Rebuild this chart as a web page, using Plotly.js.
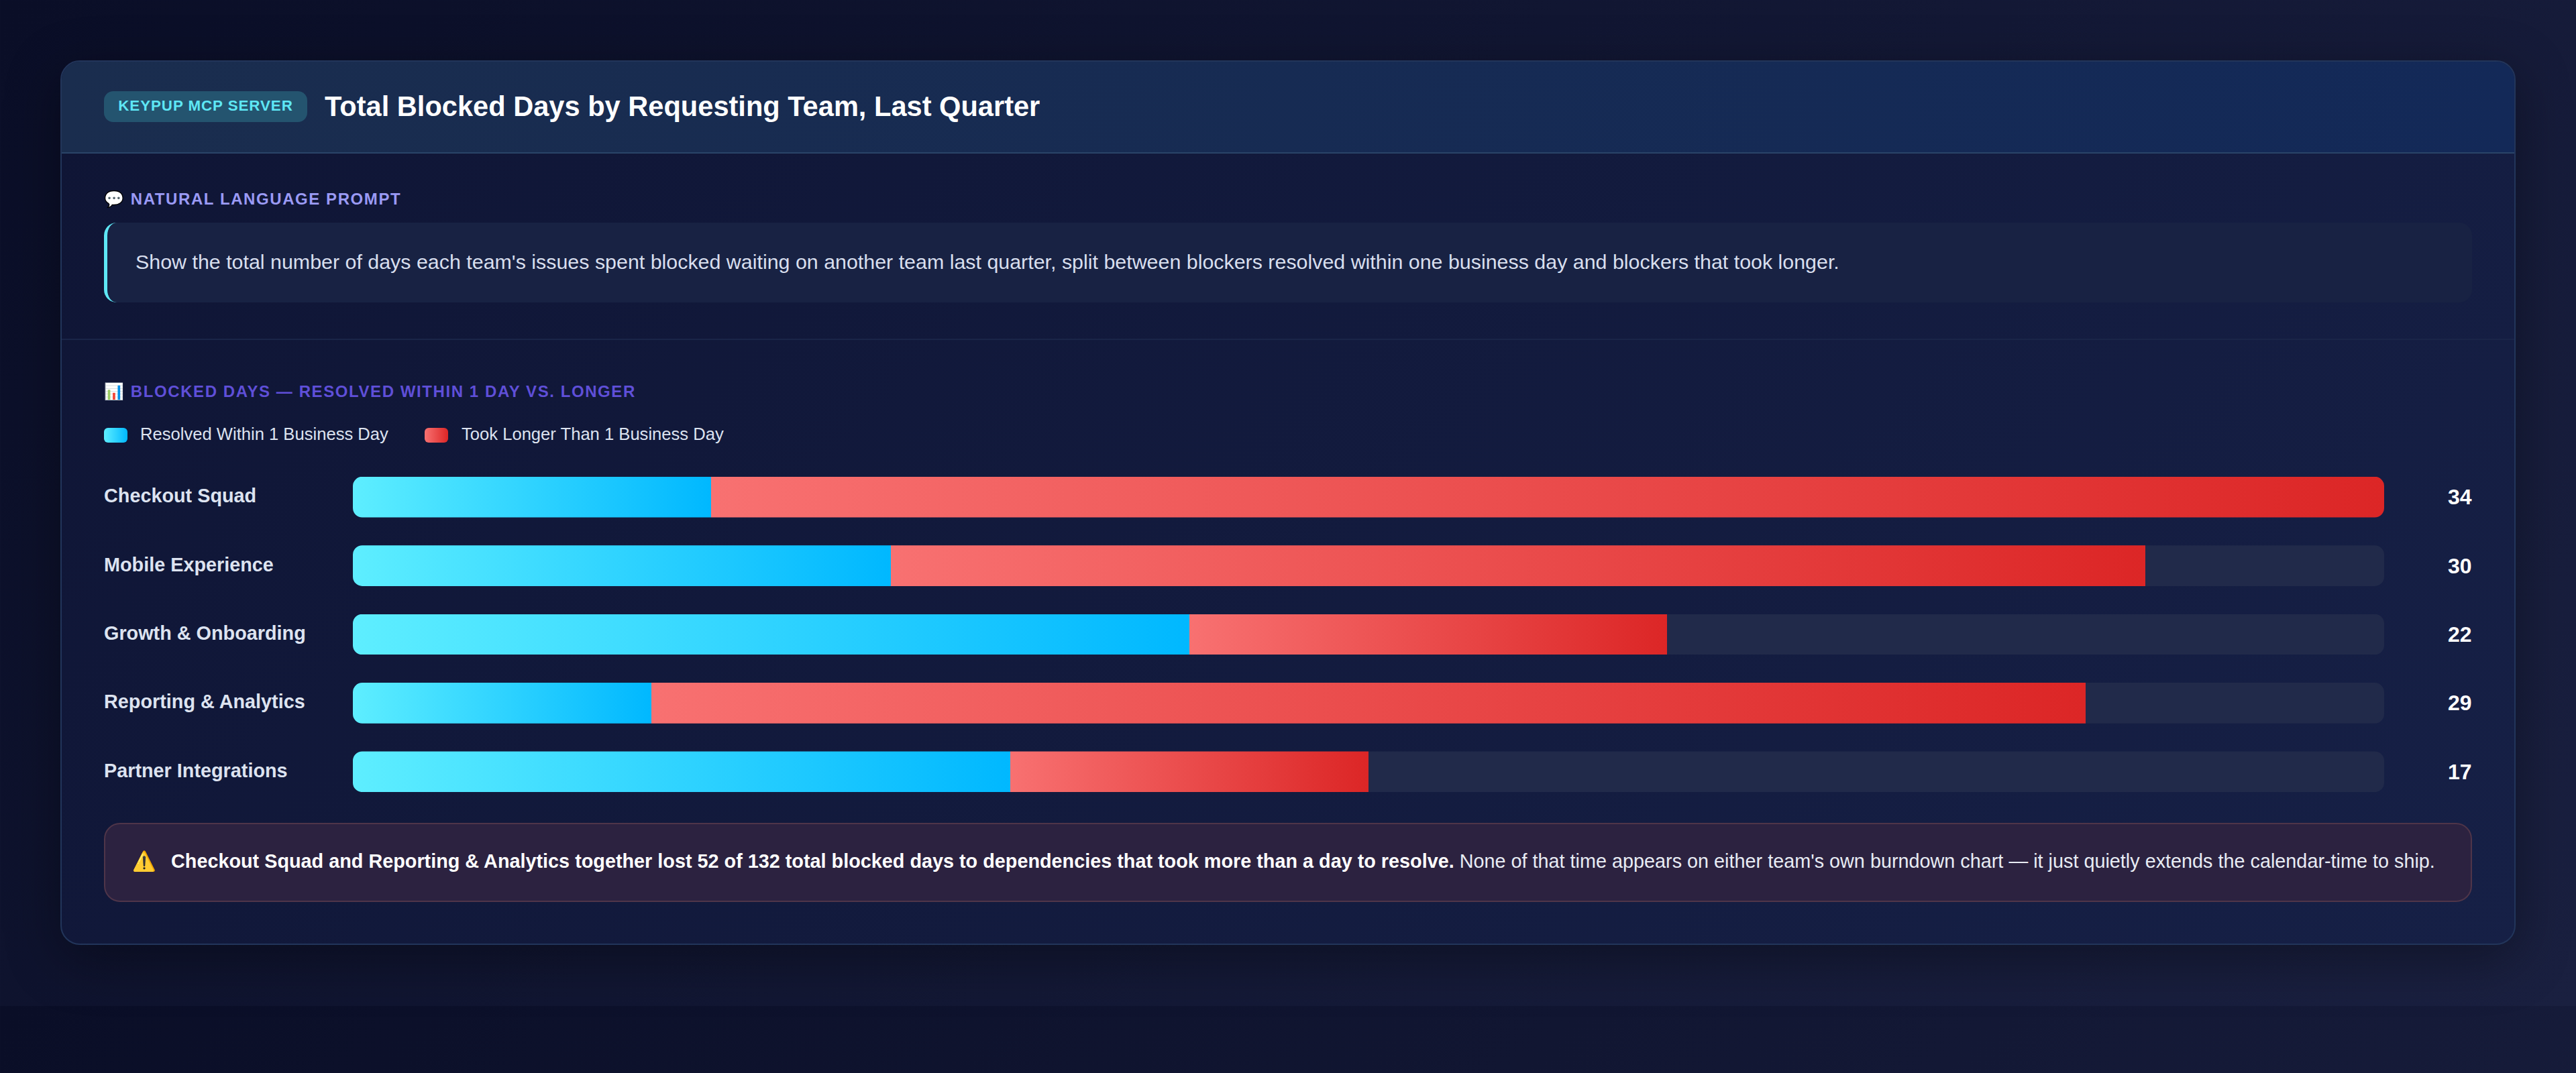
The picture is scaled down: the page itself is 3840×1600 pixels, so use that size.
<!DOCTYPE html>
<html lang="en">
<head>
<meta charset="utf-8">
<title>Total Blocked Days by Requesting Team, Last Quarter</title>
<script src="https://cdn.plot.ly/plotly-3.0.1.min.js"></script>
<style>
  * { box-sizing: border-box; margin: 0; padding: 0; }
  html { background: none; }
  body {
    width: 3840px; height: 1500px; overflow: visible;
    background: linear-gradient(135deg, #0a0e27 0%, #1a2040 100%);
    font-family: "Liberation Sans", Arial, sans-serif;
  }
  #card {
    position: absolute; left: 90px; top: 90px; width: 3660px; height: 1319px;
    border: 2px solid #22355a; border-radius: 29px; overflow: hidden;
    background: linear-gradient(135deg, #0f1535 0%, #162046 100%);
  }
  #cardShadow {
    position: absolute; left: 90px; top: 90px; width: 3660px; height: 1319px;
    border-radius: 29px; box-shadow: 0 20px 80px rgba(0,0,0,.35);
  }
  #header {
    position: absolute; left: 0; top: 0; width: 100%; height: 137px;
    background: linear-gradient(90deg, #1a2d4e 0%, #132958 100%);
    border-bottom: 2px solid #2a4468;
  }
  #divider { position: absolute; left: 0; top: 413px; width: 100%; height: 2px; background: #1a2548; }
  .abs { position: absolute; white-space: nowrap; }
  #badge {
    left: 155px; top: 136px; width: 303px; height: 46px; line-height: 44px;
    border-radius: 14px; background: #24546f; color: #5ee7f5;
    font-size: 22.4px; font-weight: 700; letter-spacing: 0.9px; text-align: center;
  }
  #title { left: 484px; top: 132px; line-height: 54px; font-size: 41.6px; font-weight: 700; color: #fff; }
  .sectionLabel { font-size: 24px; font-weight: 700; letter-spacing: 1.58px; line-height: 32px; }
  #promptLabel { left: 155px; top: 281px; color: #9a9af5; }
  #chartLabel { left: 155px; top: 568px; color: #5f4fd8; }
  #promptBox {
    left: 155px; top: 332px; width: 3530px; height: 119px;
    background: #182243; border-left: 5px solid #5ee7f5; border-radius: 19px;
  }
  #promptText { left: 202px; top: 371px; line-height: 38px; font-size: 30.4px; color: #d8dfee; }
  .swatch { width: 35px; height: 22px; top: 638px; border-radius: 6px; }
  .legendText { top: 631px; line-height: 32px; font-size: 25.6px; color: #dde3f0; }
  #chart { position: absolute; left: 155px; top: 690px; width: 3530px; height: 512px; }
  #callout {
    left: 155px; top: 1227px; width: 3530px; height: 118px;
    background: #2c2240; border: 2px solid #4f3549; border-radius: 24px;
  }
  #calloutIcon { left: 197px; top: 1264px; line-height: 40px; font-size: 28.8px; }
  #calloutText { left: 255px; top: 1265px; line-height: 38px; font-size: 28.8px; color: #e8ecf4; }
  #calloutText b { color: #fff; }
</style>
</head>
<body>
<div id="cardShadow"></div>
<div id="card"><div id="header"></div><div id="divider"></div></div>

<div class="abs" id="badge">KEYPUP MCP SERVER</div>
<div class="abs" id="title">Total Blocked Days by Requesting Team, Last Quarter</div>

<div class="abs sectionLabel" id="promptLabel">💬 NATURAL LANGUAGE PROMPT</div>
<div class="abs" id="promptBox"></div>
<div class="abs" id="promptText">Show the total number of days each team's issues spent blocked waiting on another team last quarter, split between blockers resolved within one business day and blockers that took longer.</div>

<div class="abs sectionLabel" id="chartLabel">📊 BLOCKED DAYS — RESOLVED WITHIN 1 DAY VS. LONGER</div>
<div class="abs swatch" id="swatchResolved" style="left:155px"></div>
<div class="abs legendText" id="legendResolved" style="left:209px"></div>
<div class="abs swatch" id="swatchLonger" style="left:633px"></div>
<div class="abs legendText" id="legendLonger" style="left:688px"></div>

<div id="chart"></div>

<div class="abs" id="callout"></div>
<div class="abs" id="calloutIcon">⚠️</div>
<div class="abs" id="calloutText"><b>Checkout Squad and Reporting &amp; Analytics together lost 52 of 132 total blocked days to dependencies that took more than a day to resolve.</b> None of that time appears on either team's own burndown chart — it just quietly extends the calendar-time to ship.</div>

<script>
const teams = ['Checkout Squad', 'Mobile Experience', 'Growth & Onboarding', 'Reporting & Analytics', 'Partner Integrations'];
const resolvedDays = [6, 9, 14, 5, 11];
const longerDays = [28, 21, 8, 24, 6];
const seriesNames = ['Resolved Within 1 Business Day', 'Took Longer Than 1 Business Day'];

const RESOLVED_GRAD = ['#5eeeff', '#00b8ff'];
const LONGER_GRAD = ['#f87171', '#dc2626'];
const TRACK = '#212a4a';

const totals = teams.map((_, i) => resolvedDays[i] + longerDays[i]);
const maxTotal = Math.max(...totals);
const remainder = totals.map(t => maxTotal - t);

document.getElementById('legendResolved').textContent = seriesNames[0];
document.getElementById('legendLonger').textContent = seriesNames[1];
document.getElementById('swatchResolved').style.background = `linear-gradient(90deg, ${RESOLVED_GRAD[0]}, ${RESOLVED_GRAD[1]})`;
document.getElementById('swatchLonger').style.background = `linear-gradient(90deg, ${LONGER_GRAD[0]}, ${LONGER_GRAD[1]})`;

function barTrace(name, values, color) {
  return { type: 'bar', orientation: 'h', name, y: teams, x: values, marker: { color, line: { width: 0 } }, hoverinfo: 'skip' };
}

const traces = [
  barTrace(seriesNames[0], resolvedDays, RESOLVED_GRAD[1]),
  barTrace(seriesNames[1], longerDays, LONGER_GRAD[1]),
  barTrace('Track', remainder, TRACK)
];

// row labels sit left aligned at the chart edge, totals right aligned
const labelNotes = teams.map(t => ({
  text: t, xref: 'paper', x: 0, xshift: -373, xanchor: 'left', yref: 'y', y: t, yshift: 2,
  showarrow: false, font: { family: 'Liberation Sans', size: 28.8, color: '#dde3f0', weight: 700 }
}));
const totalNotes = teams.map((t, i) => ({
  text: String(totals[i]), xref: 'paper', x: 1, xshift: 133, xanchor: 'right', yref: 'y', y: t,
  showarrow: false, font: { family: 'Liberation Sans', size: 32, color: '#ffffff', weight: 700 }
}));

const layout = {
  barmode: 'stack', bargap: 0.407, showlegend: false,
  paper_bgcolor: 'rgba(0,0,0,0)', plot_bgcolor: 'rgba(0,0,0,0)',
  margin: { l: 371, r: 131, t: 0, b: 0 },
  xaxis: { range: [0, maxTotal], visible: false, fixedrange: true },
  yaxis: { type: 'category', autorange: 'reversed', visible: false, fixedrange: true },
  annotations: labelNotes.concat(totalNotes)
};

// Plotly bars have no gradient or two-sided rounding, so patch the svg after drawing
function paintBars(gd) {
  const NS = 'http://www.w3.org/2000/svg';
  const svg = gd.querySelector('.main-svg');
  const defs = svg.querySelector('defs');
  [['gradResolved', RESOLVED_GRAD], ['gradLonger', LONGER_GRAD]].forEach(([id, stops]) => {
    const g = document.createElementNS(NS, 'linearGradient');
    g.id = id;
    stops.forEach((c, i) => {
      const s = document.createElementNS(NS, 'stop');
      s.setAttribute('offset', i);
      s.setAttribute('stop-color', c);
      g.appendChild(s);
    });
    defs.appendChild(g);
  });

  const layer = svg.querySelector('.barlayer');
  const barTraces = layer.querySelectorAll('.trace.bars');
  barTraces[0].querySelectorAll('.point path').forEach(p => { p.style.fill = 'url(#gradResolved)'; });
  barTraces[1].querySelectorAll('.point path').forEach(p => { p.style.fill = 'url(#gradLonger)'; });

  const clip = document.createElementNS(NS, 'clipPath');
  clip.id = 'trackClip';
  const width = gd._fullLayout.xaxis._length;
  barTraces[0].querySelectorAll('.point path').forEach(p => {
    const box = p.getBBox();
    const r = document.createElementNS(NS, 'rect');
    r.setAttribute('x', 0);
    r.setAttribute('y', box.y);
    r.setAttribute('width', width);
    r.setAttribute('height', box.height);
    r.setAttribute('rx', 14);
    clip.appendChild(r);
  });
  defs.appendChild(clip);
  layer.setAttribute('clip-path', 'url(#trackClip)');
}

const chart = document.getElementById('chart');
Plotly.newPlot(chart, traces, layout, { staticPlot: true, displayModeBar: false }).then(paintBars);
</script>
</body>
</html>
